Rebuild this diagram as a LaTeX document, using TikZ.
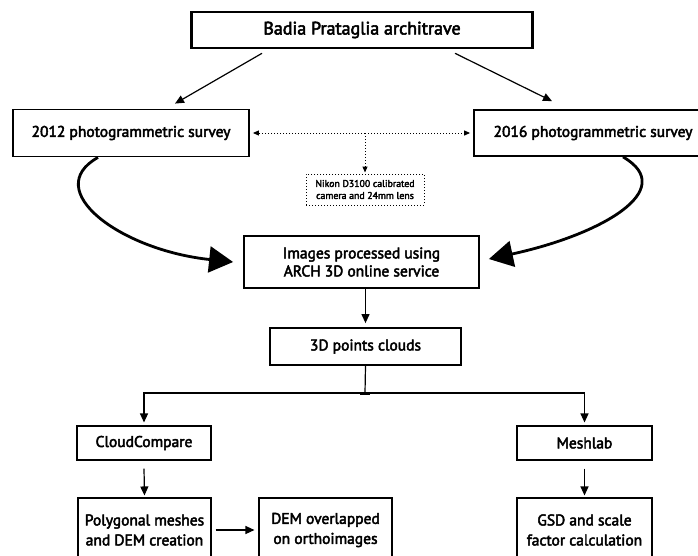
\documentclass[tikz,border=0pt]{standalone}
\usepackage{fontspec}
\setmainfont{PT Sans}
\newfontfamily\boxfont{PT Sans}[FakeBold=3]
\usetikzlibrary{arrows.meta}

\tikzset{
  box/.style={draw, line width=1.8pt, fill=white, align=center, inner sep=0pt,
    font=\boxfont\fontsize{15.5}{18}\selectfont},
  thinbox/.style={box, line width=1.1pt, font=\boxfont\fontsize{15.5}{20}\selectfont},
  link/.style={-{Triangle[length=9pt,width=8pt]}, line width=1.2pt},
  bigarrow/.style={-{Triangle[length=24pt,width=26pt]}, line width=2.8pt},
  dotlink/.style={-{Triangle[length=6pt,width=5pt]}, dotted, line width=1pt},
}

\begin{document}
\begin{tikzpicture}[x=1pt,y=-1pt]
  \useasboundingbox (0,0) rectangle (698,555);
  \clip (0,0) rectangle (698,555);

  % top part
  \node[box, line width=2.6pt, minimum width=341pt, minimum height=36pt,
    font=\boxfont\fontsize{18}{20}\selectfont] (title) at (362,30) {Badia Prataglia architrave};
  \node[box, minimum width=236pt, minimum height=47pt] (s2012) at (131,133) {2012 photogrammetric survey};
  \node[box, minimum width=238pt, minimum height=46pt] (s2016) at (593,133) {2016 photogrammetric survey};
  \node[draw, dotted, line width=1pt, align=center, inner sep=0pt, minimum width=118pt,
    minimum height=31pt, font=\boxfont\fontsize{9.8}{12}\selectfont] (camera) at (365,189.5)
    {Nikon D3100 calibrated\\camera and 24mm lens};
  \coordinate (mid) at (365,133);

  % middle part
  \node[box, minimum width=235pt, minimum height=52pt] (images) at (361.5,262)
    {Images processed using\\ARCH 3D online service};
  \node[box, minimum width=191pt, minimum height=37pt] (clouds) at (365.5,346.5) {3D points clouds};
  \coordinate (split) at (365,393);

  % software
  \node[thinbox, minimum width=134pt, minimum height=34pt] (cloudcomp) at (144,443) {CloudCompare};
  \node[thinbox, minimum width=135pt, minimum height=34pt] (meshlab) at (584.5,443) {Meshlab};
  \node[thinbox, minimum width=133pt, minimum height=64pt] (polygon) at (144.5,530)
    {Polygonal meshes\\and DEM creation};
  \node[thinbox, minimum width=133pt, minimum height=64pt] (demover) at (325.5,530)
    {DEM overlapped\\on orthoimages};
  \node[thinbox, minimum width=135pt, minimum height=64pt] (gsd) at (584.5,530)
    {GSD and scale\\factor calculation};

  % connectors
  \draw[link] ([xshift=-100pt,yshift=-4pt]title.south) -- ([xshift=44pt,yshift=5pt]s2012.north);
  \draw[link] ([xshift=93pt,yshift=-4pt]title.south) -- ([xshift=-41pt,yshift=8pt]s2016.north);
  \draw[dotlink] (mid) -- ([xshift=3pt]s2012.east);
  \draw[dotlink] (mid) -- ([xshift=-3pt]s2016.west);
  \draw[dotlink] (mid) -- ([yshift=1pt]camera.north);

  \draw[bigarrow] ([xshift=-33pt]s2012.south) .. controls (40,190) and (120,250) .. ([xshift=-10pt]images.west);
  \draw[bigarrow] ([xshift=30pt]s2016.south) .. controls (680,190) and (600,235) .. ([xshift=9pt,yshift=3pt]images.east);

  \draw[link] (images.south -| clouds) -- ([yshift=4pt]clouds.north);
  \draw[line width=1.2pt] (clouds.south) -- (split);
  \draw[link] (split) -| ([yshift=3pt]cloudcomp.north);
  \draw[link] (split) -| ([yshift=3pt]meshlab.north);
  \draw[line width=3pt] ([xshift=-5pt]split) -- ([xshift=5pt]split);
  \draw[link] ([yshift=-8pt]cloudcomp.south) -- ([yshift=2pt]polygon.north);
  \draw[link] ([yshift=-8pt]meshlab.south) -- ([yshift=2pt]gsd.north);
  \draw[link] ([xshift=4pt]polygon.east) -- ([xshift=-4pt]demover.west);
\end{tikzpicture}
\end{document}
